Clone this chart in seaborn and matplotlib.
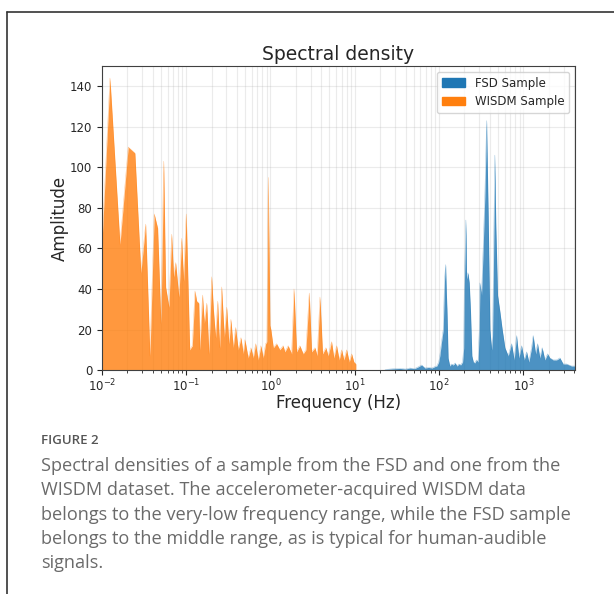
import matplotlib
matplotlib.use("Agg")
from matplotlib import pyplot as plt
from matplotlib.lines import Line2D
from matplotlib.patches import Patch
import pandas as pd
import seaborn as sns

# values (frequency in Hz, amplitude)
wisdm_freq = [0.0100, 0.01245, 0.01637, 0.0205, 0.0246, 0.0290, 0.0330, 0.0371, 0.0417,
              0.0458, 0.0501, 0.0540, 0.0570, 0.0624, 0.0671, 0.0709, 0.0749, 0.0819,
              0.0881, 0.0931, 0.1000, 0.110, 0.118, 0.127, 0.133, 0.141, 0.145, 0.156,
              0.164, 0.175, 0.186, 0.200, 0.210, 0.223, 0.236, 0.249, 0.263, 0.283,
              0.302, 0.321, 0.339, 0.361, 0.385, 0.414, 0.446, 0.475, 0.497, 0.543,
              0.586, 0.624, 0.666, 0.714, 0.769, 0.819, 0.875, 0.905, 0.940, 0.985,
              1.01, 1.08, 1.18, 1.29, 1.41, 1.48, 1.62, 1.78, 1.90, 2.04, 2.23, 2.44,
              2.63, 2.88, 3.07, 3.37, 3.58, 3.86, 4.15, 4.54, 4.83, 5.30, 5.65, 6.08,
              6.53, 6.97, 7.43, 8.00, 8.59, 9.17, 9.75, 10.3]
wisdm_amp = [62, 144, 62, 110, 107, 48, 72, 7, 77,
             70, 23, 103, 41, 31, 67, 46, 53, 36,
             65, 44, 77, 10, 12, 39, 34, 33, 10, 37,
             23, 33, 8, 46, 30, 16, 34, 11, 41, 16,
             31, 13, 25, 11, 21, 10, 16, 8, 15, 6,
             11, 6, 13, 5, 12, 6, 13, 14, 95, 22,
             20, 11, 13, 10, 12, 9, 12, 8, 40, 9, 12, 8,
             10, 38, 9, 11, 7, 36, 8, 11, 7, 14, 6, 12,
             5, 10, 5, 10, 4, 8, 4, 3]

fsd_freq = [22.8, 28, 34.3, 40, 45, 51, 56, 62, 68, 75, 82, 88, 94, 99, 102, 107, 112,
            116, 119.5, 122, 124, 128, 134, 140, 147, 155, 163, 172, 180, 190, 196, 199,
            204, 208, 212, 220, 228, 236, 245, 255, 265, 278, 290, 300, 305, 319, 334,
            349, 358, 366, 374, 382, 401, 420, 431, 440, 447, 459, 465, 472, 494, 526,
            561, 604, 661, 724, 778, 830, 885, 952, 1023, 1092, 1162, 1251, 1307, 1396,
            1473, 1570, 1671, 1799, 1937, 2062, 2258, 2477, 2710, 2966, 3253, 3730, 4083]
fsd_amp = [0.3, 0.6, 0.8, 0.5, 1.0, 0.7, 1.5, 2.5, 1.0, 1.3, 1.0, 1.6, 2.0, 4, 7, 14, 20,
           44, 52, 38, 30, 6, 2, 3, 2.5, 3.5, 2, 3, 2.5, 4, 11, 40,
           60, 74, 45, 48, 43, 29, 7, 4, 3.5, 5, 4, 20, 43, 37, 61,
           86, 105, 123, 100, 78, 20, 10, 17, 45, 70, 106, 85, 70, 37, 29,
           20, 11, 7, 13, 5, 17, 6, 12, 5, 9, 4, 11, 17, 8,
           13, 6, 11, 5, 8, 6, 5, 5, 6, 3, 3, 2, 2]

series_names = ["FSD Sample", "WISDM Sample"]
caption_head = "FIGURE 2"
caption_lines = [
    "Spectral densities of a sample from the FSD and one from the",
    "WISDM dataset. The accelerometer-acquired WISDM data",
    "belongs to the very-low frequency range, while the FSD sample",
    "belongs to the middle range, as is typical for human-audible",
    "signals.",
]

sns.set_style("ticks")
plt.rcParams["font.family"] = ["DejaVu Sans"]
colors = sns.color_palette("tab10")[:2]

fsd = pd.DataFrame({"freq": fsd_freq, "amp": fsd_amp})
wisdm = pd.DataFrame({"freq": wisdm_freq, "amp": wisdm_amp})

fig = plt.figure(figsize=(6.14, 5.94), dpi=100)
ax = fig.add_axes([0.166, 0.377, 0.7705, 0.512])

for df, c in [(fsd, colors[0]), (wisdm, colors[1])]:
    sns.lineplot(data=df, x="freq", y="amp", ax=ax, color=c, alpha=0.5, linewidth=0.3)
    ax.fill_between(df["freq"], 0, df["amp"], color=c, alpha=0.8, linewidth=0)

ax.set_xscale("log")
ax.set_xlim(0.01, 4100)
ax.set_ylim(0, 150)
ax.set_yticks(range(0, 141, 20))
ax.grid(True, which="both", color="#b0b0b0", alpha=0.25, linewidth=0.8)
ax.tick_params(which="major", length=3.5, width=0.8, labelsize=8.5)
ax.tick_params(which="minor", length=2, width=0.6)
ax.tick_params(axis="x", which="major", pad=2)
for s in ax.spines.values():
    s.set_color("0.25")
ax.set_title("Spectral density", fontsize=13.5, pad=4)
ax.set_xlabel("Frequency (Hz)", fontsize=12, labelpad=0)
ax.set_ylabel("Amplitude", fontsize=12, labelpad=1)

handles = [Patch(color=colors[0]), Patch(color=colors[1])]
ax.legend(handles, series_names, loc="upper right", fontsize=8.5)

# page frame and caption
fig.add_artist(Line2D([7 / 614, 7 / 614], [0, 1 - 12 / 594], color="0.2", linewidth=1.2))
fig.add_artist(Line2D([7 / 614, 1], [1 - 12 / 594, 1 - 12 / 594], color="0.2", linewidth=1.2))
fig.text(41 / 614, 1 - 441 / 594, caption_head, fontsize=9.5, color="#555555",
         family="Open Sans", weight="semibold", va="center")
for i, line in enumerate(caption_lines):
    fig.text(41 / 614, 1 - (466 + 24.3 * i) / 594, line, fontsize=13.1, color="#6a6a6a",
             family="Open Sans", va="center")

fig.savefig("out.png", dpi=100)
